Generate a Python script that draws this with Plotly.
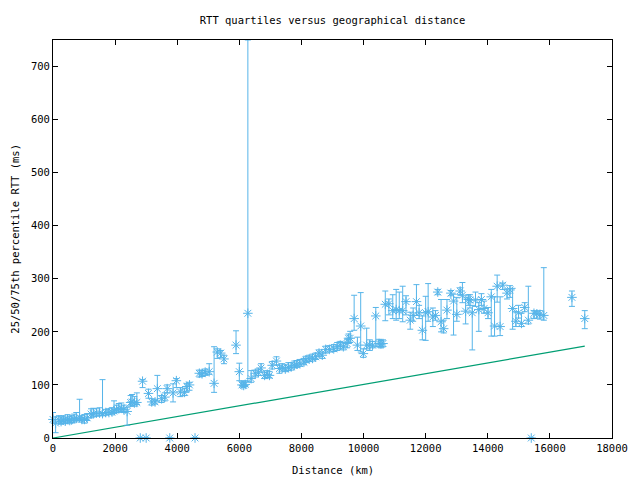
import plotly.graph_objects as go

# distance (km), 25th, median, 75th percentile RTT (ms)
distance = [0, 85, 190, 260, 330, 400, 470, 540, 600, 680, 750, 856, 930, 1014, 1100, 1226, 1300, 1400, 1500, 1595,
            1700, 1800, 1900, 1965, 2050, 2120, 2200, 2280, 2387, 2500, 2545, 2620, 2700, 2810, 2884, 3000, 3074, 3180,
            3286, 3360, 3496, 3600, 3676, 3760, 3866, 3972, 4100, 4237, 4310, 4395, 4573, 4712, 4800, 4900, 5030, 5187,
            5290, 5400, 5505, 5894, 6000, 6085, 6140, 6190, 6275, 6380, 6510, 6615, 6700, 6815, 6900, 6970, 7057, 7195,
            7290, 7380, 7480, 7580, 7670, 7770, 7850, 7950, 8080, 8145, 8250, 8357, 8460, 8566, 8670, 8780, 8900, 9040,
            9150, 9250, 9350, 9470, 9517, 9570, 9697, 9802, 9908, 9993, 10100, 10200, 10290, 10394, 10500, 10560, 10625,
            10700, 10815, 10940, 11050, 11150, 11260, 11367, 11503, 11598, 11703, 11789, 11894, 12000, 12080, 12232,
            12316, 12390, 12496, 12580, 12686, 12812, 12898, 13003, 13110, 13183, 13287, 13373, 13427, 13500, 13605,
            13712, 13795, 13880, 14007, 14112, 14218, 14302, 14397, 14482, 14620, 14715, 14800, 14905, 14990, 15085,
            15190, 15306, 15400, 15487, 15580, 15680, 15804, 16710, 17123]
q25 = [28, 10, 28, 26, 28, 27, 30, 28, 29, 30, 32, 33, 30, 28, 33, 38, 40, 41, 42, 42,
       43, 44, 45, 46, 48, 49, 50, 48, 24, 60, 62, 60, 63, 0, 95, 0, 75, 62,
       64, 70, 67, 70, 85, 0, 68, 95, 78, 80, 88, 90, 0, 115, 116, 118, 120, 86,
       150, 152, 140, 159, 108, 96, 96, 97, 106, 105, 115, 118, 126, 112, 114, 113, 130, 138,
       122, 126, 125, 127, 128, 132, 133, 135, 138, 142, 144, 145, 148, 154, 150, 160, 162, 163,
       165, 168, 166, 170, 180, 180, 203, 165, 162, 152, 168, 165, 170, 172, 172, 170, 172,
       221, 232, 225, 222, 225, 219, 232, 205, 220, 231, 225, 185, 184, 220, 210,
       222, 270, 200, 198, 225, 268, 194, 220, 270, 255, 215, 250, 245, 166, 248,
       201, 250, 235, 225, 192, 192, 256, 193, 280, 262, 265, 205, 210, 226, 210,
       238, 215, 0, 225, 226, 224, 222, 248, 206]
median = [35, 28, 34, 31, 34, 32, 35, 33, 34, 36, 37, 39, 35, 35, 38, 45, 46, 47, 47, 46,
          48, 48, 49, 51, 54, 55, 56, 54, 50, 67, 68, 66, 67, 0, 107, 0, 84, 68,
          68, 93, 74, 77, 93, 0, 85, 108, 87, 86, 97, 100, 0, 122, 121, 124, 125, 103,
          162, 160, 149, 175, 125, 100, 99, 101, 235, 112, 122, 123, 132, 118, 120, 118, 137, 145,
          131, 132, 130, 133, 134, 137, 139, 140, 143, 147, 149, 150, 153, 160, 156, 167, 167, 168,
          172, 175, 172, 178, 188, 188, 225, 175, 211, 159, 175, 175, 175, 230, 178, 177, 178,
          252, 253, 240, 242, 240, 240, 257, 222, 231, 257, 236, 203, 236, 238, 228,
          231, 275, 219, 206, 241, 273, 258, 233, 277, 269, 239, 261, 260, 236, 260,
          242, 261, 244, 236, 266, 211, 286, 210, 288, 273, 279, 244, 220, 236, 216,
          246, 222, 0, 235, 234, 233, 231, 265, 225]
q75 = [48, 40, 42, 40, 42, 38, 44, 40, 42, 45, 48, 73, 42, 44, 46, 55, 56, 55, 57, 110,
       54, 55, 57, 70, 62, 65, 66, 62, 58, 80, 82, 78, 85, 0, 110, 0, 92, 74,
       72, 118, 80, 85, 100, 0, 102, 112, 95, 93, 103, 105, 0, 128, 127, 130, 140, 172,
       168, 165, 156, 202, 141, 106, 104, 108, 750, 127, 128, 130, 140, 124, 127, 125, 144, 153,
       137, 140, 138, 142, 142, 145, 146, 148, 150, 154, 156, 158, 160, 166, 162, 173, 174, 176,
       180, 182, 180, 186, 196, 201, 269, 190, 274, 168, 207, 185, 182, 246, 186, 184, 185,
       277, 262, 270, 280, 275, 286, 268, 237, 245, 289, 250, 230, 267, 291, 245,
       240, 280, 261, 222, 261, 278, 271, 265, 283, 293, 264, 270, 270, 250, 275,
       255, 272, 258, 246, 280, 266, 307, 266, 292, 281, 287, 282, 238, 250, 235,
       255, 286, 0, 240, 238, 240, 321, 277, 240]

# lower bound reference line
bound_x = [0, 17123]
bound_y = [0, 173]

x_ticks = [0, 2000, 4000, 6000, 8000, 10000, 12000, 14000, 16000, 18000]
y_ticks = [0, 100, 200, 300, 400, 500, 600, 700]

blue = "#56b4e9"
green = "#009e73"
font = "DejaVu Sans Mono"

err_plus = [b - m for m, b in zip(median, q75)]
err_minus = [m - a for a, m in zip(q25, median)]

fig = go.Figure()
fig.add_trace(go.Scatter(
    x=bound_x, y=bound_y, mode="lines",
    line=dict(color=green, width=1.2), showlegend=False, cliponaxis=True))
fig.add_trace(go.Scatter(
    x=distance, y=median, mode="markers",
    marker=dict(symbol="asterisk-open", size=8, color=blue, line=dict(color=blue, width=1)),
    error_y=dict(type="data", symmetric=False, array=err_plus, arrayminus=err_minus,
                 color=blue, thickness=1, width=3),
    showlegend=False, cliponaxis=False))

fig.update_layout(
    width=640, height=480,
    margin=dict(l=53, r=18, t=40, b=42),
    paper_bgcolor="white", plot_bgcolor="white",
    font=dict(family=font, size=10, color="black"),
    title=dict(text="RTT quartiles versus geographical distance", x=0.5, xref="paper",
               y=1 - 20 / 480, yanchor="middle", font=dict(family=font, size=10.5)),
    xaxis=dict(range=[0, 18000], tickvals=x_ticks, ticktext=[str(v) for v in x_ticks],
               showgrid=False, zeroline=False, showline=True, linecolor="black", linewidth=1,
               mirror="ticks", ticks="inside", ticklen=5, tickcolor="black",
               tickfont=dict(family=font, size=10.5)),
    yaxis=dict(range=[0, 750], tickvals=y_ticks, ticktext=[str(v) for v in y_ticks],
               showgrid=False, zeroline=False, showline=True, linecolor="black", linewidth=1,
               mirror="ticks", ticks="inside", ticklen=5, tickcolor="black",
               tickfont=dict(family=font, size=10.5)),
    annotations=[
        dict(text="Distance (km)", xref="paper", yref="paper", x=0.5, y=-32 / 398,
             yanchor="middle", showarrow=False, font=dict(family=font, size=10.5)),
        dict(text="25/50/75th percentile RTT (ms)", xref="paper", yref="paper",
             x=-39 / 569, y=0.5, xanchor="center", yanchor="middle", textangle=-90,
             showarrow=False, font=dict(family=font, size=10.5)),
    ],
)

fig.write_html("out.html")
